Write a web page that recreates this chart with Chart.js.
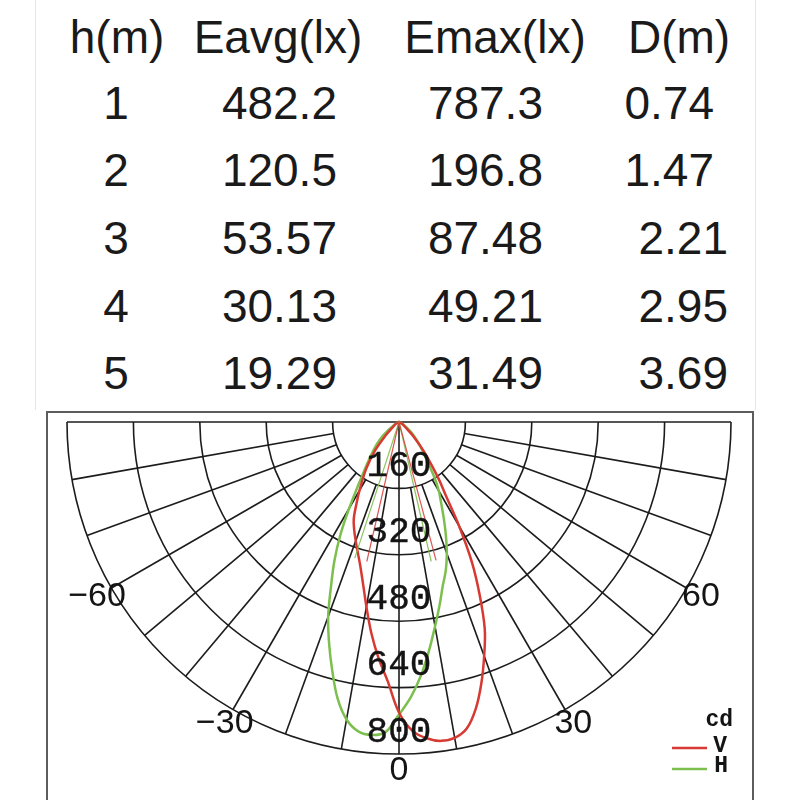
<!DOCTYPE html>
<html lang="en">
<head>
<meta charset="UTF-8">
<title>Polar candela diagram</title>
<script src="https://cdn.jsdelivr.net/npm/chart.js"></script>
<style>
    body {
        margin: 0;
        background: #fff;
        width: 800px;
        height: 800px;
        position: relative;
        overflow: hidden;
        font-family: "Liberation Sans", Arial, sans-serif;
    }

    /* photometric table on top */
    .cell {
        position: absolute;
        font-size: 46px;
        line-height: 46px;
        color: #1a1a1a;
        white-space: nowrap;
    }

    .edge {
        position: absolute;
        top: 0;
        height: 410px;
        width: 1px;
        background: #e6e6e6;
    }

    .frame {
        position: absolute;
        left: 46px;
        top: 411px;
        width: 704px;
        height: 400px;
        border: 2px solid #5c5c5c;
        border-bottom: none;
    }

    #polar {
        position: absolute;
        left: 46px;
        top: 411px;
    }
</style>
</head>
<body>
    <div class="edge" style="left:35px"></div>
    <div class="edge" style="left:755px"></div>
    <div id="table"></div>
    <div class="frame"></div>
    <canvas id="polar" width="708" height="389"></canvas>

<script>
// table values
const headers = ['h(m)', 'Eavg(lx)', 'Emax(lx)', 'D(m)'];
const heights = ['1', '2', '3', '4', '5'];
const eavg = ['482.2', '120.5', '53.57', '30.13', '19.29'];
const emax = ['787.3', '196.8', '87.48', '49.21', '31.49'];
const dist = ['0.74', '1.47', '2.21', '2.95', '3.69'];

// polar diagram: angle (deg from nadir) and intensity (cd)
const angles = [-90, -60, -50, -45, -40, -35, -30, -27.5, -25, -22.5, -20, -17.5, -15, -12.5, -10, -7.5, -5, -2.5,
    0, 2.5, 5, 7.5, 10, 12.5, 15, 17.5, 20, 22.5, 25, 27.5, 30, 32.5, 35, 40, 45, 50, 60, 90];
const cdV = [0, 8, 20, 45, 90, 138, 190, 222, 258, 282, 305, 330, 360, 400, 452, 512, 570, 625,
    700, 745, 765, 775, 773, 756, 715, 660, 600, 540, 460, 380, 290, 210, 165, 95, 50, 22, 8, 0];
const cdH = [0, 12, 49, 75, 105, 150, 240, 305, 368, 428, 499, 560, 621, 683, 728, 752, 757, 748,
    705, 663, 612, 555, 500, 452, 408, 375, 337, 295, 255, 220, 192, 160, 125, 85, 58, 38, 12, 0];
const beamV = [-13, 15];
const beamH = [-18, 13];
const beamReach = 345;

const ringValues = [160, 320, 480, 640, 800];
const angleTicks = [-90, -80, -70, -60, -50, -40, -30, -20, -10, 0, 10, 20, 30, 40, 50, 60, 70, 80, 90];
const angleLabels = [-60, -30, 0, 30, 60];

// --- table ---
const table = document.getElementById('table');
function addCell(text, x, y, align) {
    const d = document.createElement('div');
    d.className = 'cell';
    d.textContent = text;
    d.style.left = x + 'px';
    d.style.top = (y - 23) + 'px';
    if (align === 'center') d.style.transform = 'translateX(-50%)';
    if (align === 'right') d.style.transform = 'translateX(-100%)';
    table.appendChild(d);
}
addCell(headers[0], 117, 37, 'center');
addCell(headers[1], 278, 37, 'center');
addCell(headers[2], 495, 37, 'center');
addCell(headers[3], 628, 37, 'left');
const rowY = [103, 170, 238, 306, 373];
heights.forEach((h, i) => {
    addCell(h, 116, rowY[i], 'center');
    addCell(eavg[i], 337, rowY[i], 'right');
    addCell(emax[i], 543, rowY[i], 'right');
    addCell(dist[i], i < 2 ? 714 : 728, rowY[i], 'right');
});

// --- polar chart ---
const W = 708, H = 389;      // canvas size
const CX = 353, CY = 11;     // pole position in canvas
const RPX = 332;             // radius of the 800 cd ring
const k = RPX / ringValues[ringValues.length - 1];

const rad = a => a * Math.PI / 180;
function toXY(vals) {
    return angles.map((a, i) => ({ x: vals[i] * Math.sin(rad(a)), y: -vals[i] * Math.cos(rad(a)) }));
}
function beamXY(pair) {
    return [
        { x: beamReach * Math.sin(rad(pair[0])), y: -beamReach * Math.cos(rad(pair[0])) },
        { x: 0, y: 0 },
        { x: beamReach * Math.sin(rad(pair[1])), y: -beamReach * Math.cos(rad(pair[1])) }
    ];
}

const polarGrid = {
    id: 'polarGrid',
    beforeDatasetsDraw(chart) {
        const { ctx, scales: { x, y } } = chart;
        const cx = x.getPixelForValue(0), cy = y.getPixelForValue(0);
        const px = v => x.getPixelForValue(v) - cx;
        ctx.save();
        ctx.strokeStyle = '#1c1c1c';
        ctx.lineWidth = 1.6;
        ringValues.forEach(r => {
            ctx.beginPath();
            ctx.arc(cx, cy, px(r), 0, Math.PI);
            ctx.stroke();
        });
        const outer = px(ringValues[ringValues.length - 1]);
        angleTicks.forEach(a => {
            const t = rad(a);
            const r0 = (a === 0 || Math.abs(a) === 90) ? 0 : px(ringValues[0]);
            ctx.beginPath();
            ctx.moveTo(cx + r0 * Math.sin(t), cy + r0 * Math.cos(t));
            ctx.lineTo(cx + outer * Math.sin(t), cy + outer * Math.cos(t));
            ctx.stroke();
        });
        ctx.restore();
    },
    afterDatasetsDraw(chart) {
        const { ctx, chartArea, scales: { x, y } } = chart;
        const cx = x.getPixelForValue(0), cy = y.getPixelForValue(0);
        const px = v => x.getPixelForValue(v) - cx;
        ctx.save();
        ctx.fillStyle = '#141414';
        ctx.strokeStyle = '#141414';
        ctx.textAlign = 'center';
        ctx.textBaseline = 'middle';
        // ring values along the nadir axis
        ctx.font = '36px "Liberation Mono", monospace';
        ctx.lineWidth = 0.4;
        ringValues.forEach(r => {
            ctx.fillText(String(r), cx, cy + px(r) - 22);
            ctx.strokeText(String(r), cx, cy + px(r) - 22);
        });
        // angle labels outside the outer ring
        ctx.font = '34px "Liberation Sans", Arial, sans-serif';
        const lr = px(ringValues[ringValues.length - 1] + 40);
        angleLabels.forEach(a => {
            const t = rad(a);
            const txt = a < 0 ? '\u2212' + Math.abs(a) : String(a);
            ctx.fillText(txt, cx + lr * Math.sin(t), cy + lr * Math.cos(t));
        });
        // legend
        const lx = chartArea.right - 23;
        ctx.textAlign = 'right';
        ctx.font = 'bold 23px "Liberation Mono", monospace';
        ctx.fillText('cd', lx + 2, 309);
        ctx.fillText('V', lx - 4, 335);
        ctx.fillText('H', lx - 3, 355);
        ctx.lineWidth = 2.5;
        ctx.strokeStyle = '#d63a32';
        ctx.beginPath(); ctx.moveTo(lx - 59, 337); ctx.lineTo(lx - 24, 337); ctx.stroke();
        ctx.strokeStyle = '#7dbf4f';
        ctx.beginPath(); ctx.moveTo(lx - 59, 358); ctx.lineTo(lx - 24, 358); ctx.stroke();
        ctx.restore();
    }
};

new Chart(document.getElementById('polar'), {
    type: 'scatter',
    data: {
        datasets: [
            { label: 'V beam', data: beamXY(beamV), showLine: true, borderColor: 'rgba(214,58,50,0.85)', borderWidth: 1.2, pointRadius: 0, tension: 0 },
            { label: 'H beam', data: beamXY(beamH), showLine: true, borderColor: 'rgba(125,191,79,0.9)', borderWidth: 1.2, pointRadius: 0, tension: 0 },
            { label: 'V', data: toXY(cdV), showLine: true, borderColor: '#d63a32', borderWidth: 2.5, pointRadius: 0, tension: 0.35 },
            { label: 'H', data: toXY(cdH), showLine: true, borderColor: '#7dbf4f', borderWidth: 2.5, pointRadius: 0, tension: 0.35 }
        ]
    },
    options: {
        responsive: false,
        animation: false,
        layout: { padding: 0 },
        plugins: { legend: { display: false }, tooltip: { enabled: false } },
        scales: {
            x: { type: 'linear', display: false, min: -CX / k, max: (W - CX) / k },
            y: { type: 'linear', display: false, min: -(H - CY) / k, max: CY / k }
        }
    },
    plugins: [polarGrid]
});
</script>
</body>
</html>
